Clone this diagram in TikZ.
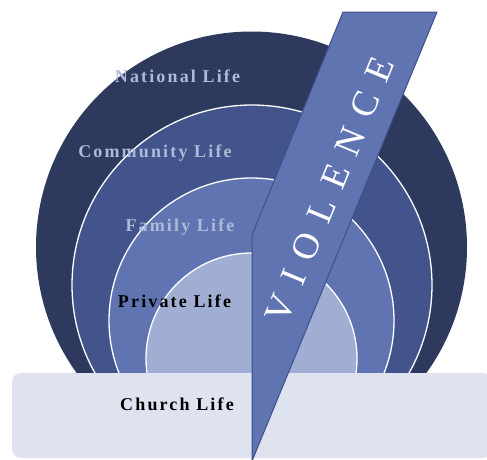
\documentclass[tikz,border=0pt]{standalone}
\usepackage{fontspec}
\setmainfont{Liberation Serif}
\newfontfamily\labfont[LetterSpace=12]{Liberation Serif}
\newfontfamily\vfont[LetterSpace=38]{Liberation Serif}
\definecolor{cNat}{HTML}{2D3A5E}
\definecolor{cCom}{HTML}{43548C}
\definecolor{cFam}{HTML}{5F74B1}
\definecolor{cPri}{HTML}{A0AED3}
\definecolor{cChu}{HTML}{DFE3F0}
\definecolor{cBand}{HTML}{5F74B1}
\definecolor{cBandLine}{HTML}{3E5089}
\definecolor{cLight}{HTML}{AFBAD9}
\tikzset{
  ring/.style={draw=white, line width=1.3pt},
  lab/.style={font=\labfont\bfseries\fontsize{18}{20}\selectfont, anchor=base, inner sep=0pt},
}
\begin{document}
\begin{tikzpicture}[x=1pt,y=-1pt]
\useasboundingbox (0,0) rectangle (487,459);
\fill[white] (0,0) rectangle (487,459);
% circles
\begin{scope}
\clip (0,0) rectangle (487,400);
\fill[cNat] (251.5,247) circle (215.5);
\filldraw[ring, fill=cCom] (252,285) circle (180);
\filldraw[ring, fill=cFam] (251.5,320.5) circle (142.5);
\filldraw[ring, fill=cPri] (251.5,358.5) circle (105.5);
\end{scope}
% church box
\fill[cChu, rounded corners=9pt] (12,373) rectangle (492,458);
% violence band
\coordinate (tl) at (343,12);
\coordinate (tr) at (437,12);
\coordinate (bend) at (252,235);
\coordinate (bot) at (252,461);
\filldraw[fill=cBand, draw=cBandLine, line width=1pt, line join=round] (tl) -- (tr) -- (bot) -- (bend) -- cycle;
% labels
\node[lab, text=cLight] (nat) at (177.5,82) {National Life};
\node[lab, text=cLight] (com) at (155,157.5) {Community Life};
\node[lab, text=cLight] (fam) at (180,231) {Family Life};
\node[lab, text=black] (pri) at (174.5,307) {Private Life};
\node[lab, text=black] (chu) at (177,410) {Church Life};
\node[text=white, inner sep=0pt, rotate=67.5, font=\vfont\fontsize{37}{40}\selectfont] (vio) at (330,190) {VIOLENCE};
\end{tikzpicture}
\end{document}
